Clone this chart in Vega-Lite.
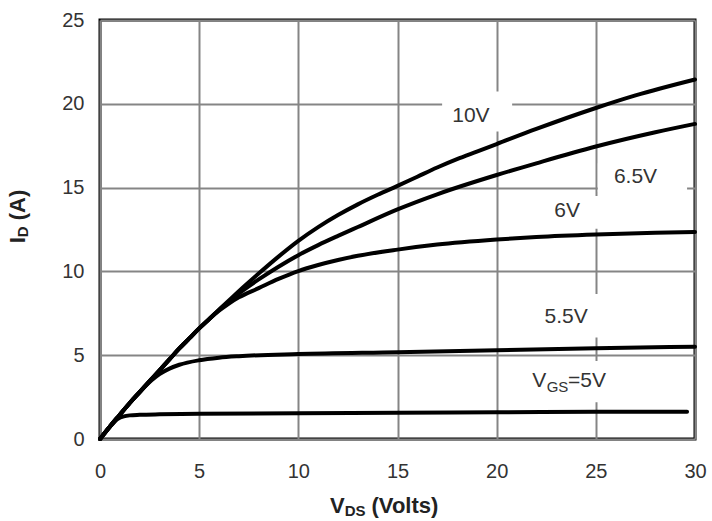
{
  "$schema": "https://vega.github.io/schema/vega-lite/v6.json",
  "width": 595,
  "height": 419,
  "autosize": {"type": "none"},
  "padding": {"left": 100, "top": 20, "right": 17, "bottom": 82},
  "background": "white",
  "config": {
    "view": {"stroke": "black", "strokeWidth": 3},
    "font": "Liberation Sans",
    "axis": {
      "domain": false,
      "ticks": false,
      "grid": true,
      "gridColor": "#858585",
      "gridWidth": 2,
      "gridOpacity": 1,
      "labelFont": "Liberation Sans",
      "labelFontSize": 20,
      "labelColor": "#333333",
      "labelFlush": false,
      "labelOverlap": false,
      "title": null
    }
  },
  "datasets": {
    "curves": [
      {"vgs": "5V", "vds": 0, "id": 0},
      {"vgs": "5V", "vds": 0.5, "id": 0.72},
      {"vgs": "5V", "vds": 0.9, "id": 1.2},
      {"vgs": "5V", "vds": 1.2, "id": 1.35},
      {"vgs": "5V", "vds": 1.5, "id": 1.41},
      {"vgs": "5V", "vds": 2, "id": 1.44},
      {"vgs": "5V", "vds": 3, "id": 1.47},
      {"vgs": "5V", "vds": 5, "id": 1.5},
      {"vgs": "5V", "vds": 10, "id": 1.54},
      {"vgs": "5V", "vds": 15, "id": 1.57},
      {"vgs": "5V", "vds": 20, "id": 1.6},
      {"vgs": "5V", "vds": 25, "id": 1.62},
      {"vgs": "5V", "vds": 29.6, "id": 1.63},

      {"vgs": "5.5V", "vds": 0, "id": 0},
      {"vgs": "5.5V", "vds": 0.5, "id": 0.75},
      {"vgs": "5.5V", "vds": 1, "id": 1.45},
      {"vgs": "5.5V", "vds": 1.5, "id": 2.15},
      {"vgs": "5.5V", "vds": 2, "id": 2.8},
      {"vgs": "5.5V", "vds": 2.6, "id": 3.5},
      {"vgs": "5.5V", "vds": 3, "id": 3.87},
      {"vgs": "5.5V", "vds": 3.5, "id": 4.2},
      {"vgs": "5.5V", "vds": 4, "id": 4.43},
      {"vgs": "5.5V", "vds": 5, "id": 4.7},
      {"vgs": "5.5V", "vds": 6, "id": 4.85},
      {"vgs": "5.5V", "vds": 7, "id": 4.94},
      {"vgs": "5.5V", "vds": 10, "id": 5.07},
      {"vgs": "5.5V", "vds": 15, "id": 5.18},
      {"vgs": "5.5V", "vds": 20, "id": 5.3},
      {"vgs": "5.5V", "vds": 25, "id": 5.42},
      {"vgs": "5.5V", "vds": 30, "id": 5.5},

      {"vgs": "6V", "vds": 0, "id": 0},
      {"vgs": "6V", "vds": 0.5, "id": 0.75},
      {"vgs": "6V", "vds": 1, "id": 1.45},
      {"vgs": "6V", "vds": 1.5, "id": 2.15},
      {"vgs": "6V", "vds": 2, "id": 2.8},
      {"vgs": "6V", "vds": 2.5, "id": 3.45},
      {"vgs": "6V", "vds": 3, "id": 4.1},
      {"vgs": "6V", "vds": 3.5, "id": 4.75},
      {"vgs": "6V", "vds": 4, "id": 5.4},
      {"vgs": "6V", "vds": 4.5, "id": 6.0},
      {"vgs": "6V", "vds": 5, "id": 6.6},
      {"vgs": "6V", "vds": 5.5, "id": 7.15},
      {"vgs": "6V", "vds": 6, "id": 7.65},
      {"vgs": "6V", "vds": 6.5, "id": 8.08},
      {"vgs": "6V", "vds": 7, "id": 8.45},
      {"vgs": "6V", "vds": 8, "id": 9.0},
      {"vgs": "6V", "vds": 9, "id": 9.55},
      {"vgs": "6V", "vds": 10, "id": 10.02},
      {"vgs": "6V", "vds": 11, "id": 10.38},
      {"vgs": "6V", "vds": 12, "id": 10.68},
      {"vgs": "6V", "vds": 13, "id": 10.93},
      {"vgs": "6V", "vds": 15, "id": 11.3},
      {"vgs": "6V", "vds": 17, "id": 11.6},
      {"vgs": "6V", "vds": 20, "id": 11.9},
      {"vgs": "6V", "vds": 22, "id": 12.05},
      {"vgs": "6V", "vds": 25, "id": 12.2},
      {"vgs": "6V", "vds": 28, "id": 12.3},
      {"vgs": "6V", "vds": 30, "id": 12.35},

      {"vgs": "6.5V", "vds": 0, "id": 0},
      {"vgs": "6.5V", "vds": 0.5, "id": 0.75},
      {"vgs": "6.5V", "vds": 1, "id": 1.45},
      {"vgs": "6.5V", "vds": 1.5, "id": 2.15},
      {"vgs": "6.5V", "vds": 2, "id": 2.8},
      {"vgs": "6.5V", "vds": 2.5, "id": 3.45},
      {"vgs": "6.5V", "vds": 3, "id": 4.1},
      {"vgs": "6.5V", "vds": 3.5, "id": 4.75},
      {"vgs": "6.5V", "vds": 4, "id": 5.4},
      {"vgs": "6.5V", "vds": 4.5, "id": 6.0},
      {"vgs": "6.5V", "vds": 5, "id": 6.6},
      {"vgs": "6.5V", "vds": 5.5, "id": 7.15},
      {"vgs": "6.5V", "vds": 6, "id": 7.7},
      {"vgs": "6.5V", "vds": 6.5, "id": 8.2},
      {"vgs": "6.5V", "vds": 7, "id": 8.68},
      {"vgs": "6.5V", "vds": 8, "id": 9.52},
      {"vgs": "6.5V", "vds": 9, "id": 10.28},
      {"vgs": "6.5V", "vds": 10, "id": 10.97},
      {"vgs": "6.5V", "vds": 11, "id": 11.57},
      {"vgs": "6.5V", "vds": 12, "id": 12.12},
      {"vgs": "6.5V", "vds": 13, "id": 12.65},
      {"vgs": "6.5V", "vds": 15, "id": 13.7},
      {"vgs": "6.5V", "vds": 17, "id": 14.6},
      {"vgs": "6.5V", "vds": 20, "id": 15.75},
      {"vgs": "6.5V", "vds": 22, "id": 16.45},
      {"vgs": "6.5V", "vds": 25, "id": 17.45},
      {"vgs": "6.5V", "vds": 28, "id": 18.3},
      {"vgs": "6.5V", "vds": 30, "id": 18.8},

      {"vgs": "10V", "vds": 0, "id": 0},
      {"vgs": "10V", "vds": 0.5, "id": 0.75},
      {"vgs": "10V", "vds": 1, "id": 1.45},
      {"vgs": "10V", "vds": 1.5, "id": 2.15},
      {"vgs": "10V", "vds": 2, "id": 2.8},
      {"vgs": "10V", "vds": 2.5, "id": 3.45},
      {"vgs": "10V", "vds": 3, "id": 4.1},
      {"vgs": "10V", "vds": 3.5, "id": 4.75},
      {"vgs": "10V", "vds": 4, "id": 5.4},
      {"vgs": "10V", "vds": 4.5, "id": 6.0},
      {"vgs": "10V", "vds": 5, "id": 6.6},
      {"vgs": "10V", "vds": 5.5, "id": 7.15},
      {"vgs": "10V", "vds": 6, "id": 7.72},
      {"vgs": "10V", "vds": 6.5, "id": 8.27},
      {"vgs": "10V", "vds": 7, "id": 8.82},
      {"vgs": "10V", "vds": 8, "id": 9.87},
      {"vgs": "10V", "vds": 9, "id": 10.88},
      {"vgs": "10V", "vds": 10, "id": 11.82},
      {"vgs": "10V", "vds": 11, "id": 12.64},
      {"vgs": "10V", "vds": 12, "id": 13.36},
      {"vgs": "10V", "vds": 13, "id": 14.0},
      {"vgs": "10V", "vds": 14, "id": 14.57},
      {"vgs": "10V", "vds": 15, "id": 15.1},
      {"vgs": "10V", "vds": 16, "id": 15.65},
      {"vgs": "10V", "vds": 17, "id": 16.2},
      {"vgs": "10V", "vds": 18, "id": 16.7},
      {"vgs": "10V", "vds": 19, "id": 17.15},
      {"vgs": "10V", "vds": 20, "id": 17.6},
      {"vgs": "10V", "vds": 22, "id": 18.5},
      {"vgs": "10V", "vds": 25, "id": 19.75},
      {"vgs": "10V", "vds": 27, "id": 20.5},
      {"vgs": "10V", "vds": 30, "id": 21.45}
    ],
    "boxes": [
      {"label": "10V", "x1": 17.25, "x2": 20.78, "y1": 18.35, "y2": 20.73},
      {"label": "6.5V", "x1": 25.1, "x2": 29.6, "y1": 14.75, "y2": 16.45},
      {"label": "6V", "x1": 22.2, "x2": 25.2, "y1": 12.55, "y2": 14.5},
      {"label": "5.5V", "x1": 21.9, "x2": 25.2, "y1": 6.05, "y2": 8.65},
      {"label": "VGS=5V", "x1": 21.4, "x2": 26.5, "y1": 2.2, "y2": 4.65}
    ],
    "labels": [
      {"text": "10V", "x": 18.7, "y": 19.3},
      {"text": "6.5V", "x": 27.0, "y": 15.65},
      {"text": "6V", "x": 23.55, "y": 13.6},
      {"text": "5.5V", "x": 23.5, "y": 7.3}
    ],
    "pieces": [
      {"text": "V", "x": 21.8, "y": 3.47},
      {"text": "=5V", "x": 23.6, "y": 3.47}
    ],
    "subs": [
      {"text": "GS", "x": 22.52, "y": 3.47}
    ],
    "xtitle": [
      {"text": "V", "x": 11.6, "y": -3.97},
      {"text": "(Volts)", "x": 13.69, "y": -3.97}
    ],
    "xtitlesub": [
      {"text": "DS", "x": 12.34, "y": -3.97}
    ],
    "ytitle": [
      {"text": "I", "x": -4.15, "y": 11.68},
      {"text": "(A)", "x": -4.15, "y": 13.05}
    ],
    "ytitlesub": [
      {"text": "D", "x": -4.15, "y": 12.04}
    ]
  },
  "layer": [
    {
      "data": {"name": "boxes"},
      "mark": {"type": "rect", "fill": "white", "stroke": null},
      "encoding": {
        "x": {"field": "x1", "type": "quantitative", "scale": {"domain": [0, 30], "nice": false}, "axis": {"values": [0, 5, 10, 15, 20, 25, 30], "labelPadding": 22}},
        "x2": {"field": "x2"},
        "y": {"field": "y1", "type": "quantitative", "scale": {"domain": [0, 25], "nice": false}, "axis": {"values": [0, 5, 10, 15, 20, 25], "labelPadding": 16}},
        "y2": {"field": "y2"}
      }
    },
    {
      "data": {"name": "curves"},
      "mark": {"type": "line", "color": "black", "strokeWidth": 4, "interpolate": "monotone", "strokeCap": "round"},
      "encoding": {
        "x": {"field": "vds", "type": "quantitative"},
        "y": {"field": "id", "type": "quantitative"},
        "detail": {"field": "vgs"}
      }
    },
    {
      "data": {"name": "labels"},
      "mark": {"type": "text", "fontSize": 21, "color": "#333333", "align": "center", "baseline": "middle"},
      "encoding": {
        "x": {"field": "x", "type": "quantitative"},
        "y": {"field": "y", "type": "quantitative"},
        "text": {"field": "text"}
      }
    },
    {
      "data": {"name": "pieces"},
      "mark": {"type": "text", "fontSize": 21, "color": "#333333", "align": "left", "baseline": "middle"},
      "encoding": {
        "x": {"field": "x", "type": "quantitative"},
        "y": {"field": "y", "type": "quantitative"},
        "text": {"field": "text"}
      }
    },
    {
      "data": {"name": "subs"},
      "mark": {"type": "text", "fontSize": 15, "color": "#333333", "align": "left", "baseline": "middle", "dy": 6},
      "encoding": {
        "x": {"field": "x", "type": "quantitative"},
        "y": {"field": "y", "type": "quantitative"},
        "text": {"field": "text"}
      }
    },
    {
      "data": {"name": "xtitle"},
      "mark": {"type": "text", "fontSize": 22, "fontWeight": "bold", "color": "#222222", "align": "left", "baseline": "middle"},
      "encoding": {
        "x": {"field": "x", "type": "quantitative"},
        "y": {"field": "y", "type": "quantitative"},
        "text": {"field": "text"}
      }
    },
    {
      "data": {"name": "xtitlesub"},
      "mark": {"type": "text", "fontSize": 15, "fontWeight": "bold", "color": "#222222", "align": "left", "baseline": "middle", "dy": 5},
      "encoding": {
        "x": {"field": "x", "type": "quantitative"},
        "y": {"field": "y", "type": "quantitative"},
        "text": {"field": "text"}
      }
    },
    {
      "data": {"name": "ytitle"},
      "mark": {"type": "text", "fontSize": 22, "fontWeight": "bold", "color": "#222222", "align": "left", "baseline": "middle", "angle": 270},
      "encoding": {
        "x": {"field": "x", "type": "quantitative"},
        "y": {"field": "y", "type": "quantitative"},
        "text": {"field": "text"}
      }
    },
    {
      "data": {"name": "ytitlesub"},
      "mark": {"type": "text", "fontSize": 15, "fontWeight": "bold", "color": "#222222", "align": "left", "baseline": "middle", "angle": 270, "dy": 5},
      "encoding": {
        "x": {"field": "x", "type": "quantitative"},
        "y": {"field": "y", "type": "quantitative"},
        "text": {"field": "text"}
      }
    }
  ]
}
